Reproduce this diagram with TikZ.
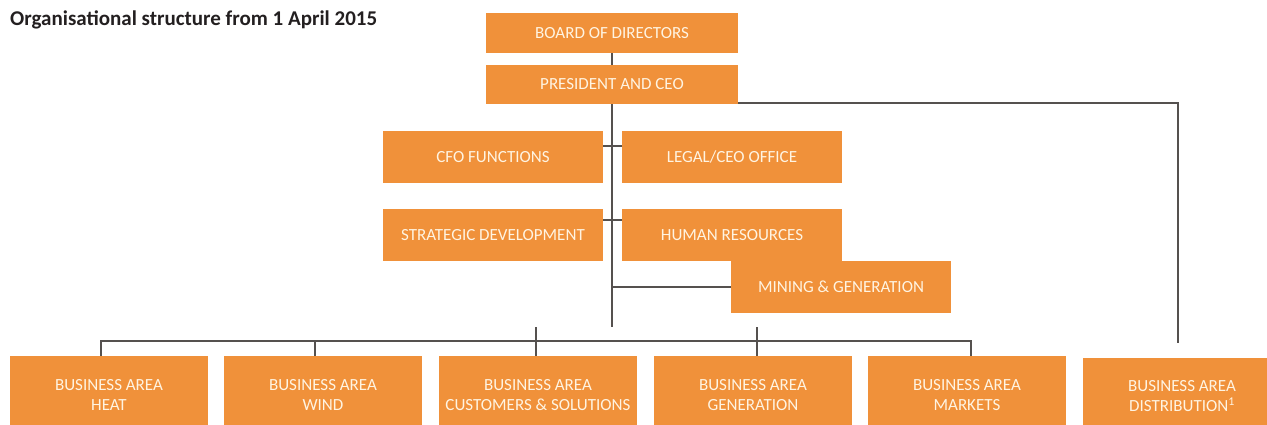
\documentclass[tikz,border=0pt]{standalone}
\usepackage{fontspec}
\setmainfont{Carlito}
\definecolor{vorange}{HTML}{F0913A}
\definecolor{vtext}{HTML}{FFF4E2}
\definecolor{vline}{HTML}{55514F}
\definecolor{vtitle}{HTML}{231F20}
\begin{document}
\begin{tikzpicture}[x=1pt,y=-1pt,
  box/.style={fill=vorange,text=vtext,inner sep=0pt,align=center,font=\fontsize{17}{20.5}\selectfont},
  topbox/.style={box,minimum width=252pt},
  midbox/.style={box,minimum width=220pt,minimum height=52pt},
  areabox/.style={box,minimum width=198pt,minimum height=78pt},
  conn/.style={draw=vline,line width=1.3pt}]
\useasboundingbox (0,0) rectangle (1267,425);
\clip (0,0) rectangle (1267,425);

\node[anchor=base west,text=vtitle,inner sep=0pt,font=\fontsize{21}{24}\selectfont\bfseries] (title) at (10,25.5) {Organisational structure from 1 April 2015};

\node[topbox,minimum height=40pt] (board) at (612,33) {BOARD OF DIRECTORS};
\node[topbox,minimum height=39pt] (pres) at (612,84.5) {PRESIDENT AND CEO};

\node[midbox] (cfo) at (493,157) {CFO FUNCTIONS};
\node[midbox] (legal) at (732,157) {LEGAL/CEO OFFICE};
\node[midbox] (strat) at (493,235) {STRATEGIC DEVELOPMENT};
\node[midbox] (hr) at (732,235) {HUMAN RESOURCES};
\node[midbox] (mining) at (841,287) {MINING \& GENERATION};

\node[areabox] (heat) at (109,395) {BUSINESS AREA\\HEAT};
\node[areabox] (wind) at (323,395) {BUSINESS AREA\\WIND};
\node[areabox] (cust) at (538,395) {BUSINESS AREA\\CUSTOMERS \& SOLUTIONS};
\node[areabox] (gen) at (753,395) {BUSINESS AREA\\GENERATION};
\node[areabox] (markets) at (967,395) {BUSINESS AREA\\MARKETS};
\node[areabox,minimum height=76pt] (dist) at (1182,396) {BUSINESS AREA\\DISTRIBUTION\textsuperscript{1}};

% coordinates
\coordinate (spineend) at (612,327);
\coordinate (t1) at (612,146);
\coordinate (t2) at (612,220);
\coordinate (dheat) at (101,341);
\coordinate (dwind) at (315,341);
\coordinate (dcust) at (536,327);
\coordinate (dgen) at (757,327);
\coordinate (dmark) at (971,341);
\coordinate (rcorner) at (1178,103);
\coordinate (rend) at (1178,343);

% connectors
\draw[conn] (board.south) -- (pres.north);
\draw[conn] (pres.south) -- (spineend);
\draw[conn] (cfo.east |- t1) -- (legal.west |- t1);
\draw[conn] (strat.east |- t2) -- (hr.west |- t2);
\draw[conn] (mining.west -| pres.south) -- (mining.west);
\draw[conn] (dheat |- heat.north) -- (dheat) -- (dmark) -- (dmark |- markets.north);
\draw[conn] (dwind) -- (dwind |- wind.north);
\draw[conn] (dcust) -- (dcust |- cust.north);
\draw[conn] (dgen) -- (dgen |- gen.north);
\draw[conn] (pres.east |- rcorner) -- (rcorner) -- (rend);
\end{tikzpicture}
\end{document}
